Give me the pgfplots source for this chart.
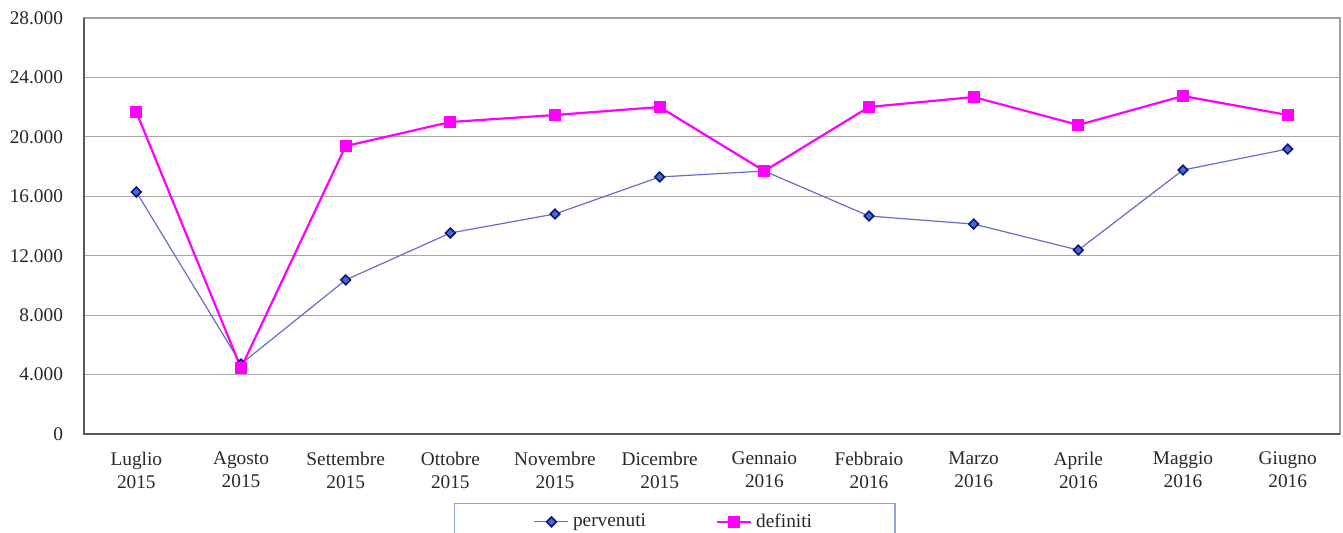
\documentclass[border=0pt]{standalone}
\usepackage{pgfplots}
\pgfplotsset{compat=1.18}
\usepackage{fontspec}
\setmainfont{Liberation Serif}
\definecolor{gridgray}{RGB}{166,166,166}
\definecolor{framegray}{RGB}{160,160,160}
\definecolor{axisdark}{RGB}{90,90,90}
\definecolor{pervline}{RGB}{100,110,200}
\definecolor{pervfill}{RGB}{70,110,190}
\definecolor{pervedge}{RGB}{10,20,130}
\definecolor{defcol}{RGB}{255,0,255}
\definecolor{legframe}{RGB}{140,165,210}
\definecolor{txt}{RGB}{40,40,40}

\begin{document}
\begin{tikzpicture}
\begin{axis}[
  name=ax,
  scale only axis,
  width=628bp, height=208bp,
  xmin=-0.5, xmax=11.5,
  ymin=0, ymax=28000,
  xtick={0,...,11},
  xticklabels={Luglio\\2015, Agosto\\2015, Settembre\\2015, Ottobre\\2015,
    Novembre\\2015, Dicembre\\2015, Gennaio\\2016, Febbraio\\2016,
    Marzo\\2016, Aprile\\2016, Maggio\\2016, Giugno\\2016},
  ytick={0,4000,...,28000},
  scaled y ticks=false,
  yticklabel style={/pgf/number format/1000 sep={.}, /pgf/number format/assume math mode=true, xshift=-7bp},
  tick style={draw=none},
  font=\fontsize{9.7}{11.5}\selectfont,
  every tick label/.append style={text=txt},
  xticklabel style={align=center, yshift=-5.5bp},
  ymajorgrids=true,
  grid style={gridgray, line width=0.6bp},
  axis line style={framegray, line width=0.8bp},
  after end axis/.code={
    \draw[axisdark, line width=0.9bp] (rel axis cs:0,1) -- (rel axis cs:0,0) -- (rel axis cs:1,0);
  },
  legend columns=2,
  legend style={at={(0.4705,-0.1659)}, anchor=north, draw=legframe,
    line width=0.6bp, inner xsep=39.5bp, inner ysep=3bp,
    font=\fontsize{9.7}{11.5}\selectfont, text=txt,
    /tikz/every even column/.append style={column sep=33bp}},
]
\addplot[pervline, line width=0.6bp, mark=square*, mark size=1.7bp,
  mark options={rotate=45, fill=pervfill, draw=pervedge, line width=0.8bp}] coordinates {
  (0,16290) (1,4710) (2,10370) (3,13530) (4,14810) (5,17300)
  (6,17700) (7,14670) (8,14130) (9,12380) (10,17770) (11,19180)
};
\addlegendentry{pervenuti}
\addplot[defcol, line width=1.1bp, mark=square*, mark size=2.5bp,
  mark options={fill=defcol, draw=defcol}] coordinates {
  (0,21670) (1,4440) (2,19380) (3,21000) (4,21470) (5,22010)
  (6,17700) (7,22010) (8,22680) (9,20800) (10,22750) (11,21470)
};
\addlegendentry{definiti}
\end{axis}
\pgfresetboundingbox
\path[use as bounding box] ([xshift=-42bp,yshift=-49.5bp]ax.south west) rectangle ([xshift=1.5bp,yshift=9bp]ax.north east);
\end{tikzpicture}
\end{document}
